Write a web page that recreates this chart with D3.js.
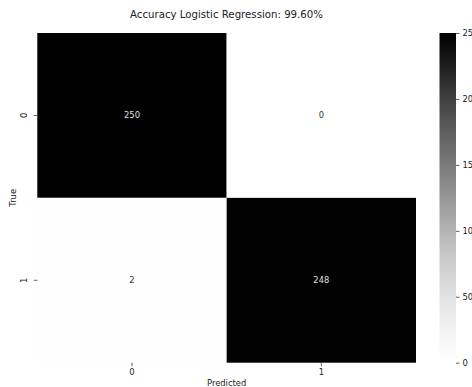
<!DOCTYPE html>
<html><head><meta charset="utf-8">
<script src="https://cdn.jsdelivr.net/npm/d3@7"></script>
<style>body{margin:0;background:#fff;} svg{display:block;font-family:"DejaVu Sans",sans-serif;}</style>
</head><body>
<script>
const trueLabels = ["0", "1"];
const predLabels = ["0", "1"];
const row0 = [250, 0];
const row1 = [2, 248];
const cbTicks = [0, 50, 100, 150, 200, 250];
const title = "Accuracy Logistic Regression: 99.60%";

const W = 472, H = 387;
const svg = d3.select("body").append("svg").attr("width", W).attr("height", H);
const m = {l: 37.3, t: 33, r: 416, b: 362.7};
const x = d3.scaleBand().domain(predLabels).range([m.l, m.r]);
const y = d3.scaleBand().domain(trueLabels).range([m.t, m.b]);
const vmax = d3.max([...row0, ...row1]);
const color = d3.scaleSequential(d3.interpolateGreys).domain([0, vmax]);

const cells = [];
[row0, row1].forEach((r, i) => r.forEach((v, j) => cells.push({t: trueLabels[i], p: predLabels[j], v})));

svg.selectAll("rect.cell").data(cells).join("rect").attr("class", "cell")
  .attr("x", d => x(d.p)).attr("y", d => y(d.t))
  .attr("width", x.bandwidth()).attr("height", y.bandwidth())
  .attr("fill", d => color(d.v));

svg.selectAll("text.val").data(cells).join("text").attr("class", "val")
  .attr("x", d => x(d.p) + x.bandwidth() / 2).attr("y", d => y(d.t) + y.bandwidth() / 2)
  .attr("text-anchor", "middle").attr("dominant-baseline", "central")
  .attr("font-size", 8.4)
  .attr("fill", d => d.v > vmax / 2 ? "#e0e0e0" : "#333")
  .text(d => d.v);

// x axis
const xa = svg.append("g").attr("transform", `translate(0,${m.b})`)
  .call(d3.axisBottom(x).tickSize(3.5).tickPadding(3));
xa.select(".domain").remove();
xa.selectAll("line").attr("stroke", "#333").attr("stroke-width", 0.8);
xa.selectAll("text").attr("font-size", 8.4).attr("fill", "#222").attr("font-family", "DejaVu Sans");

// y axis
const ya = svg.append("g").attr("transform", `translate(${m.l},0)`)
  .call(d3.axisLeft(y).tickSize(3.5).tickPadding(3));
ya.select(".domain").remove();
ya.selectAll("line").attr("stroke", "#333").attr("stroke-width", 0.8);
ya.selectAll("text").attr("font-size", 8.4).attr("fill", "#222").attr("font-family", "DejaVu Sans")
  .attr("x", null).attr("dy", null).attr("text-anchor", "middle")
  .attr("transform", "translate(-10,0) rotate(-90)");

svg.append("text").attr("x", (m.l + m.r) / 2).attr("y", 386).attr("text-anchor", "middle")
  .attr("font-size", 8.4).attr("fill", "#222").text("Predicted");
svg.append("text").attr("transform", `translate(16,${(m.t + m.b) / 2}) rotate(-90)`)
  .attr("text-anchor", "middle").attr("font-size", 8.4).attr("fill", "#222").text("True");

svg.append("text").attr("x", 226.5).attr("y", 18).attr("text-anchor", "middle")
  .attr("font-size", 10.2).attr("fill", "#222").text(title);

// colorbar
const cb = {x: 439.5, w: 16.5};
const cy = d3.scaleLinear().domain([0, vmax]).range([m.b, m.t]);
const grad = svg.append("defs").append("linearGradient").attr("id", "g")
  .attr("x1", 0).attr("y1", 1).attr("x2", 0).attr("y2", 0);
d3.range(0, 1.0001, 0.1).forEach(t => grad.append("stop").attr("offset", t).attr("stop-color", color(t * vmax)));
svg.append("rect").attr("x", cb.x).attr("y", m.t).attr("width", cb.w).attr("height", m.b - m.t).attr("fill", "url(#g)");
const ca = svg.append("g").attr("transform", `translate(${cb.x + cb.w},0)`)
  .call(d3.axisRight(cy).tickValues(cbTicks).tickSize(3.5).tickPadding(3));
ca.select(".domain").remove();
ca.selectAll("line").attr("stroke", "#333").attr("stroke-width", 0.8);
ca.selectAll("text").attr("font-size", 8.4).attr("fill", "#222").attr("font-family", "DejaVu Sans");
</script>
</body></html>
